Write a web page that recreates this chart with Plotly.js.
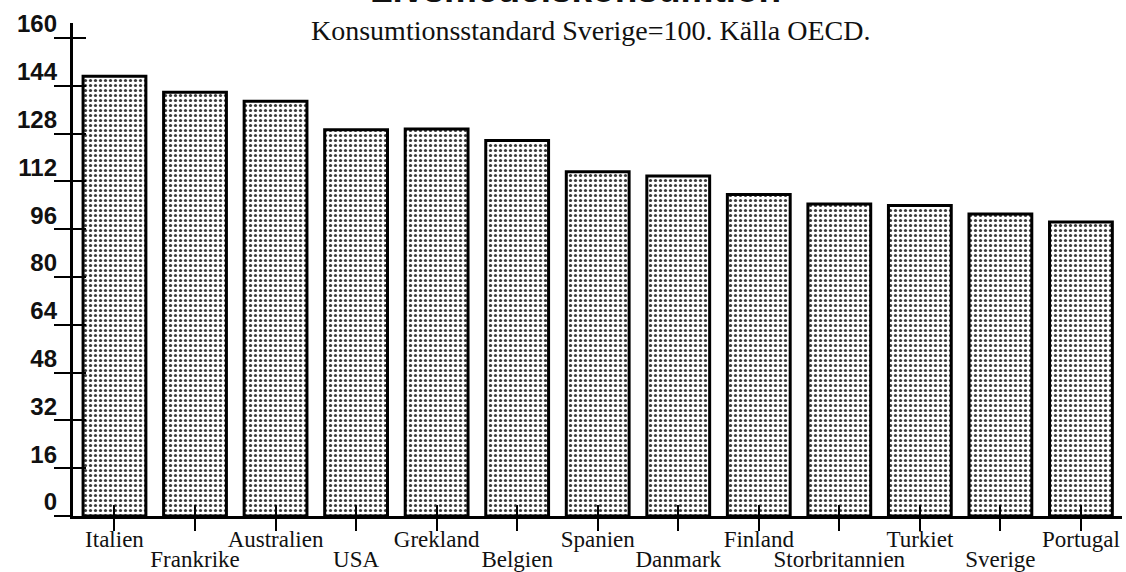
<!DOCTYPE html>
<html>
<head>
<meta charset="utf-8">
<script src="https://cdn.plot.ly/plotly-3.0.1.min.js"></script>
<style>html,body{margin:0;padding:0;background:#fff;}#chart{width:1126px;height:572px;}</style>
</head>
<body>
<div id="chart"></div>
<script>
const countries = ["Italien","Frankrike","Australien","USA","Grekland","Belgien","Spanien","Danmark","Finland","Storbritannien","Turkiet","Sverige","Portugal"];
const values = [147.2, 141.8, 138.8, 129.3, 129.5, 125.7, 115.2, 113.8, 107.6, 104.4, 103.9, 101.1, 98.4];
const yTicks = [0,16,32,48,64,80,96,112,128,144,160];
const titleText = "Livsmedelskonsumtion";
const subtitleText = "Konsumtionsstandard Sverige=100. Källa OECD.";

const upperLabels = countries.map((c,i) => i % 2 === 0 ? c : "");
const lowerLabels = countries.map((c,i) => i % 2 === 1 ? c : "");

const pattern = {shape: ".", fgcolor: "#3a3a3a", bgcolor: "#ffffff", size: 5, solidity: 0.32, fillmode: "replace"};

const traces = [
  {type: "bar", x: countries, y: values, xaxis: "x", yaxis: "y",
   marker: {color: "#ffffff", pattern: pattern, line: {color: "#000", width: 3}},
   hoverinfo: "x+y", showlegend: false},
  {type: "bar", x: countries, y: values, xaxis: "x2", yaxis: "y2",
   marker: {color: "rgba(0,0,0,0)", line: {width: 0}}, opacity: 0,
   hoverinfo: "skip", showlegend: false}
];

const xr = [-0.515, 12.51];
const yr = [0, 165];
const serif = "Liberation Serif, Times New Roman, serif";
const sans = "Liberation Sans, Arial, sans-serif";

const layout = {
  width: 1126, height: 572,
  margin: {l: 73, r: 4, t: 23.3, b: 56, pad: 0},
  paper_bgcolor: "#fff", plot_bgcolor: "rgba(0,0,0,0)",
  bargap: 0.22,
  showlegend: false,
  xaxis: {type: "category", range: xr, showgrid: false, zeroline: false,
    showline: true, linecolor: "#000", linewidth: 3,
    ticks: "inside", ticklen: 11, tickwidth: 2, tickcolor: "#000",
    tickmode: "array", tickvals: countries, ticktext: upperLabels,
    tickfont: {family: serif, size: 23, color: "#111"}, ticklabelstandoff: 0, tickangle: 0},
  xaxis2: {type: "category", range: xr, overlaying: "x", anchor: "y2", side: "bottom",
    showgrid: false, zeroline: false, showline: false,
    ticks: "outside", ticklen: 14, tickwidth: 2, tickcolor: "#000",
    tickmode: "array", tickvals: countries, ticktext: lowerLabels,
    tickfont: {family: serif, size: 23, color: "#111"}, ticklabelstandoff: 8, tickangle: 0},
  yaxis: {range: yr, showgrid: false, zeroline: false,
    showline: true, linecolor: "#000", linewidth: 3,
    ticks: "outside", ticklen: 16, tickwidth: 2, tickcolor: "#000",
    tickmode: "array", tickvals: yTicks, showticklabels: false},
  yaxis2: {range: yr, overlaying: "y", anchor: "x2", side: "left",
    showgrid: false, zeroline: false, showline: false,
    ticks: "inside", ticklen: 13, tickwidth: 2, tickcolor: "#000",
    tickmode: "array", tickvals: yTicks, ticktext: yTicks.map(String),
    tickfont: {family: sans, size: 24, color: "#111", weight: "bold"},
    ticklabelshift: -14, ticklabelstandoff: 15},
  annotations: [
    {text: "<b>" + titleText + "</b>", xref: "paper", yref: "paper", x: 0.4795, y: 1.022,
     xanchor: "center", yanchor: "bottom", showarrow: false,
     font: {family: sans, size: 37, color: "#111"}},
    {text: subtitleText, xref: "paper", yref: "paper", x: 0.4938, y: 0.9844,
     xanchor: "center", yanchor: "middle", showarrow: false,
     font: {family: serif, size: 28, color: "#111"}}
  ]
};

Plotly.newPlot("chart", traces, layout, {staticPlot: true, displayModeBar: false});
</script>
</body>
</html>
